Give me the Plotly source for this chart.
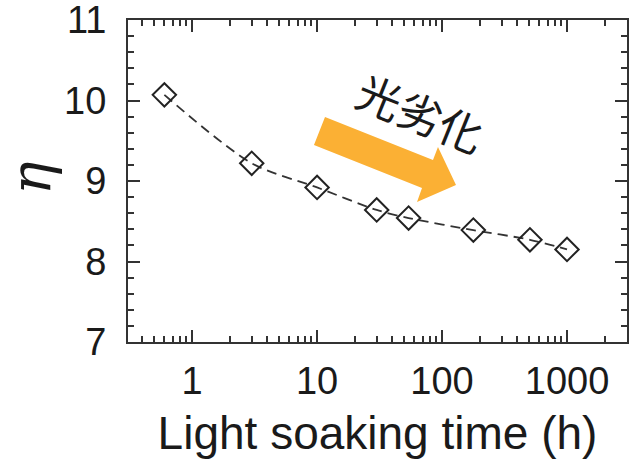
import plotly.graph_objects as go
import math

# Data
time_h = [0.6, 3.0, 10, 30, 54, 178, 505, 1000]
eta = [10.07, 9.22, 8.92, 8.64, 8.54, 8.39, 8.27, 8.15]
x_ticks = [1, 10, 100, 1000]
x_tick_labels = ["1", "10", "100", "1000"]
y_ticks = [7, 8, 9, 10, 11]
annotation_text = "光劣化"
y_title = "<i>η</i>"

W, H = 635, 469
L, R, T, B = 128, 8, 20, 127
pw, ph = W - L - R, H - T - B

def px(x, y):
    return ((x - L) / pw, (H - B - y) / ph)

fig = go.Figure()
fig.add_trace(go.Scatter(
    x=time_h, y=eta, mode="lines",
    line=dict(color="#333333", width=1.8, dash="10px,6px", shape="spline", smoothing=0.8),
    hoverinfo="skip", showlegend=False))
fig.add_trace(go.Scatter(
    x=time_h, y=eta, mode="markers",
    marker=dict(symbol="diamond-open", size=18, color="#222222", line=dict(width=2, color="#222222")),
    showlegend=False))

# Big orange arrow (paper coords from pixel layout)
pts = [(325, 117), (433, 160), (438, 147), (456, 185), (417, 202), (422, 188), (314, 145)]
path = "M " + " L ".join("%.4f,%.4f" % px(a, b) for a, b in pts) + " Z"
fig.add_shape(type="path", path=path, xref="paper", yref="paper",
              fillcolor="#FBB034", line=dict(width=0), layer="above")

tx, ty = px(421, 112)
fig.add_annotation(text=annotation_text, x=tx, y=ty, xref="paper", yref="paper",
                   xanchor="center", yanchor="middle",
                   showarrow=False, textangle=22,
                   font=dict(family="Noto Sans CJK JP", size=44, color="#1a1a1a"))

# y-axis title placed as annotation
ex, ey = px(30, 178)
fig.add_annotation(text=y_title, x=ex, y=ey, xref="paper", yref="paper",
                   xanchor="center", yanchor="middle", showarrow=False, textangle=-90,
                   font=dict(family="DejaVu Serif", size=56, color="#1a1a1a"))

axis_common = dict(showline=True, linecolor="#333333", linewidth=2, mirror="allticks",
                   ticks="inside", tickcolor="#333333", tickwidth=2, ticklen=12,
                   showgrid=False, zeroline=False, automargin=False,
                   ticklabeloverflow="allow",
                   tickfont=dict(family="Liberation Sans", size=38, color="#1a1a1a"))

fig.update_xaxes(type="log", range=[math.log10(0.307), math.log10(3020)],
                 tickvals=x_ticks, ticktext=x_tick_labels, ticklabelstandoff=4,
                 minor=dict(ticks="inside", ticklen=6, tickwidth=1.5, tickcolor="#333333", dtick="D1"),
                 title=dict(text="Light soaking time (h)", standoff=16,
                            font=dict(family="Liberation Sans", size=46, color="#1a1a1a")),
                 **axis_common)
fig.update_yaxes(range=[7, 11], tickvals=y_ticks, ticklabelstandoff=12,
                 minor=dict(ticks="inside", ticklen=6, tickwidth=1.5, tickcolor="#333333", dtick=0.2),
                 **axis_common)

fig.update_layout(width=W, height=H, margin=dict(l=L, r=R, t=T, b=B),
                  plot_bgcolor="white", paper_bgcolor="white")

fig.write_html("out.html", config={"displayModeBar": False},
               post_script="document.body.style.margin='0';")
